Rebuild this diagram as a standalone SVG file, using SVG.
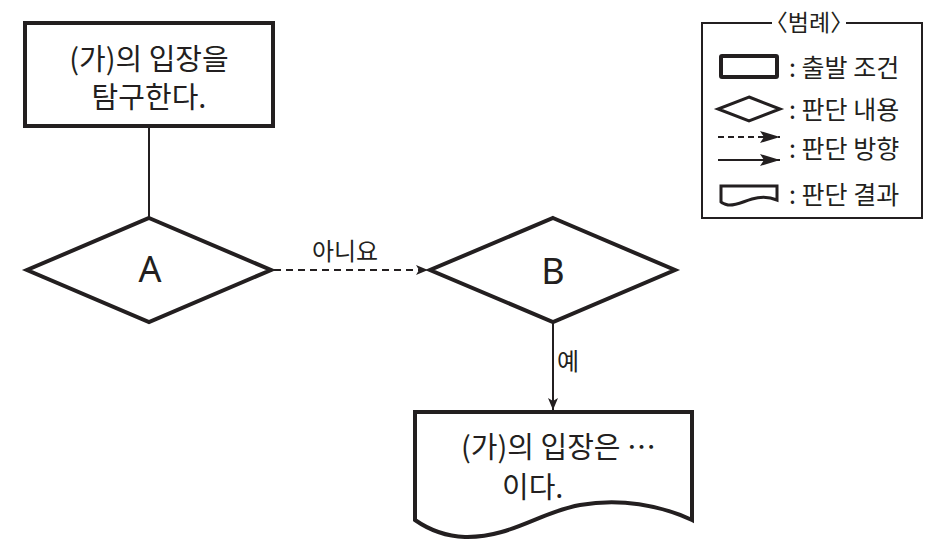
<svg xmlns="http://www.w3.org/2000/svg" width="939" height="546" viewBox="0 0 939 546">
<defs>
<style>
.t{font-family:"Noto Sans CJK KR","Noto Sans",sans-serif;fill:#231f20}
.n{fill:#fff;stroke:#231f20;stroke-width:4;stroke-linejoin:miter}
.thin{fill:none;stroke:#231f20;stroke-width:2}
.dash{fill:none;stroke:#231f20;stroke-width:2;stroke-dasharray:7,5}
</style>
<marker id="ah" viewBox="0 0 12 10" refX="12" refY="5" markerWidth="12" markerHeight="10" markerUnits="userSpaceOnUse" orient="auto">
<path d="M0,0 L12,5 L0,10 L3,5 Z" fill="#231f20"/>
</marker>
<marker id="ahL" viewBox="0 0 20 12" refX="20" refY="6" markerWidth="20" markerHeight="12" markerUnits="userSpaceOnUse" orient="auto">
<path d="M0,0 L20,6 L0,12 L4,6 Z" fill="#231f20"/>
</marker>
</defs>
<rect width="939" height="546" fill="#fff"/>
<g id="connectors">
<line class="thin" x1="149" y1="127" x2="149" y2="217"/>
<line class="dash" x1="274" y1="270" x2="428" y2="270" marker-end="url(#ah)"/>
<line class="thin" x1="553" y1="322" x2="553" y2="410" marker-end="url(#ah)"/>
<text class="t" x="345" y="260" font-size="24" text-anchor="middle">아니요</text>
<text class="t" x="557" y="370" font-size="24">예</text>
</g>
<g id="start">
<rect class="n" x="25" y="23" width="248" height="103"/>
<text class="t" x="149" y="70" font-size="29" text-anchor="middle">(가)의 입장을</text>
<text class="t" x="149" y="108" font-size="29" text-anchor="middle">탐구한다.</text>
</g>
<g id="A">
<polygon class="n" points="149,218 271,270 149,322 27,270"/>
<text class="t" x="150" y="282" font-size="36" text-anchor="middle" style="font-family:'Noto Sans','Liberation Sans',sans-serif">A</text>
</g>
<g id="B">
<polygon class="n" points="553,218 675,270 553,322 430,270"/>
<text class="t" x="553" y="284" font-size="36" text-anchor="middle" style="font-family:'Noto Sans','Liberation Sans',sans-serif">B</text>
</g>
<g id="result">
<path class="n" d="M415,412 L692,412 L692,520 C660,505 620,498 580,505 C540,512 510,538 465,537 C440,536 425,527 415,520 Z"/>
<text class="t" x="461" y="458" font-size="29">(가)의 입장은 ⋯</text>
<text class="t" x="502" y="498" font-size="29">이다.</text>
</g>
<g id="legend">
<path class="thin" d="M772,23 L702,23 L702,218 L922,218 L922,23 L846,23"/>
<text class="t" x="809" y="31" font-size="23" text-anchor="middle">〈범례〉</text>
<rect class="n" x="721" y="56" width="56" height="21" rx="1"/>
<text class="t" x="789" y="77" font-size="25">: 출발 조건</text>
<polygon class="n" points="749,97 780,109 749,121 718,109" style="stroke-width:3"/>
<text class="t" x="789" y="119" font-size="25">: 판단 내용</text>
<line class="dash" x1="718" y1="137" x2="780" y2="137" marker-end="url(#ahL)" style="stroke-dasharray:6,4"/>
<line class="thin" x1="718" y1="160" x2="780" y2="160" marker-end="url(#ahL)"/>
<text class="t" x="789" y="158" font-size="25">: 판단 방향</text>
<path class="n" d="M721,186 L777,186 L777,200 C770,197 762,196 752,199 C742,202 735,206 728,205 C724,204 722,203 721,202 Z" style="stroke-width:3"/>
<text class="t" x="789" y="204" font-size="25">: 판단 결과</text>
</g>
</svg>
